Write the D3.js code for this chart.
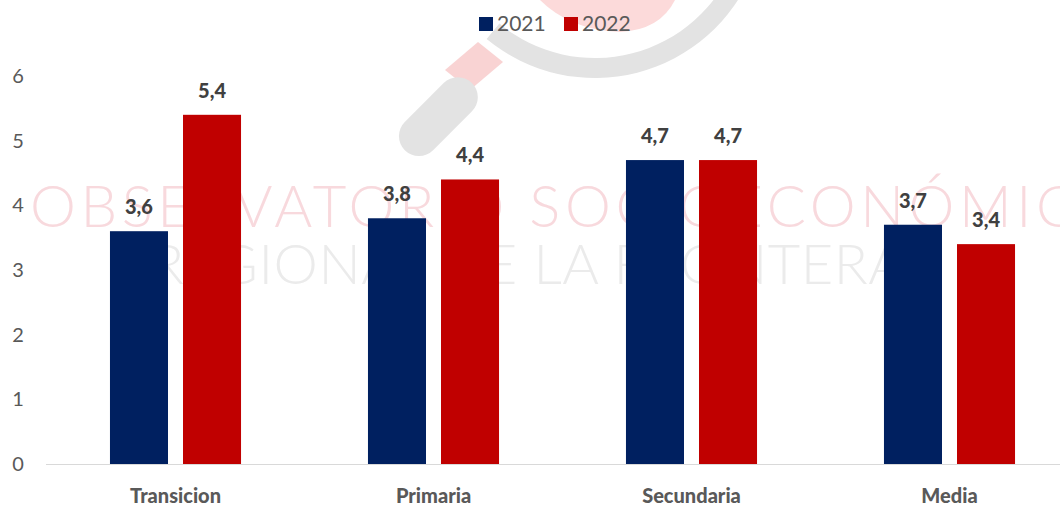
<!DOCTYPE html>
<html><head><meta charset="utf-8">
<script src="https://cdn.jsdelivr.net/npm/d3@7"></script>
<style>body{margin:0;background:#fff}svg{display:block}</style>
</head><body>
<script>
const categories = ["Transicion","Primaria","Secundaria","Media"];
const series = ["2021","2022"];
const values2021 = [3.6,3.8,4.7,3.7];
const values2022 = [5.4,4.4,4.7,3.4];
const yTicks = [0,1,2,3,4,5,6];
const colors = {"2021":"#002060","2022":"#C00000"};

const W=1060,H=506;
const svg=d3.select("body").append("svg").attr("width",W).attr("height",H);

// watermark
const wm=svg.append("g");
wm.append("path")
  .attr("d", d3.arc()({innerRadius:150,outerRadius:170,startAngle:Math.PI*0.62,endAngle:Math.PI*1.22}))
  .attr("transform","translate(595,-92)").attr("fill","#e3e3e3");
wm.append("path").attr("d","M540,0 L675,0 Q660,30 620,32 Q570,30 540,0Z").attr("fill","#fcdada");
wm.append("path").attr("d","M478,42 L503,62 L470,90 L445,70Z").attr("fill","#f9d3d3");
wm.append("rect").attr("x",-20).attr("y",-24).attr("width",40).attr("height",95).attr("rx",20)
  .attr("transform","translate(455,100) rotate(45)").attr("fill","#e3e3e3");
wm.append("text").attr("x",30).attr("y",227).text("OBSERVATORIO SOCIOECONÓMICO")
  .attr("font-family","Lato").attr("font-weight",300).attr("font-size",58)
  .attr("textLength",1095).attr("lengthAdjust","spacing")
  .attr("fill","#f8d9dd");
wm.append("text").attr("x",150).attr("y",284).text("REGIONAL DE LA FRONTERA")
  .attr("font-family","Lato").attr("font-weight",300).attr("font-size",56)
  .attr("textLength",755).attr("lengthAdjust","spacing")
  .attr("fill","#ebebeb");

const y=d3.scaleLinear().domain([0,6]).range([464,76]);
const x0=d3.scaleBand().domain(categories).range([46.5,1078.5]).paddingInner(0.492).paddingOuter(0.246);
const x1=d3.scaleBand().domain(series).range([0,x0.bandwidth()]).paddingInner(15/73);

// baseline
svg.append("line").attr("x1",46).attr("x2",1060).attr("y1",y(0)+0.5).attr("y2",y(0)+0.5)
  .attr("stroke","#d9d9d9").attr("stroke-width",1);

// y ticks
const yAxis=d3.axisLeft(y).tickValues(yTicks).tickFormat(d3.format("d")).tickSize(0).tickPadding(0);
const ya=svg.append("g").attr("transform","translate(18,0)").call(yAxis);
ya.select(".domain").remove();
ya.selectAll("text").attr("font-family","Lato, 'Open Sans', sans-serif").attr("font-size",20)
  .attr("fill","#595959").attr("text-anchor","middle");

const data=categories.map((c,i)=>({c, v:{"2021":values2021[i],"2022":values2022[i]}}));
const g=svg.append("g").selectAll("g").data(data).join("g").attr("transform",d=>`translate(${x0(d.c)},0)`);
g.selectAll("rect").data(d=>series.map(s=>({s,v:d.v[s]}))).join("rect")
  .attr("x",d=>x1(d.s)).attr("width",x1.bandwidth())
  .attr("y",d=>y(d.v)).attr("height",d=>y(0)-y(d.v)).attr("fill",d=>colors[d.s]);
g.selectAll("text.val").data(d=>series.map(s=>({s,v:d.v[s]}))).join("text").attr("class","val")
  .attr("x",d=>x1(d.s)+x1.bandwidth()/2).attr("y",d=>y(d.v)-17)
  .attr("text-anchor","middle").attr("font-family","Lato, 'Open Sans', sans-serif").attr("font-weight",900)
  .attr("font-size",20).attr("fill","#404040").text(d=>d3.format(".1f")(d.v).replace(".",","));

// x labels
const xAxis=d3.axisBottom(x0).tickSize(0).tickPadding(0);
const xa=svg.append("g").attr("transform","translate(0,503)").call(xAxis);
xa.select(".domain").remove();
xa.selectAll("text").attr("dy",0).attr("font-family","Lato, 'Open Sans', sans-serif").attr("font-weight",900)
  .attr("font-size",20).attr("fill","#595959");

// legend
const lg=svg.append("g");
const lx={"2021":479,"2022":564};
series.forEach(s=>{
  lg.append("rect").attr("x",lx[s]).attr("y",17).attr("width",14).attr("height",14).attr("fill",colors[s]);
  lg.append("text").attr("x",lx[s]+18).attr("y",31).text(s).attr("font-family","Lato, 'Open Sans', sans-serif")
    .attr("font-size",21).attr("fill","#595959");
});
</script>
</body></html>
